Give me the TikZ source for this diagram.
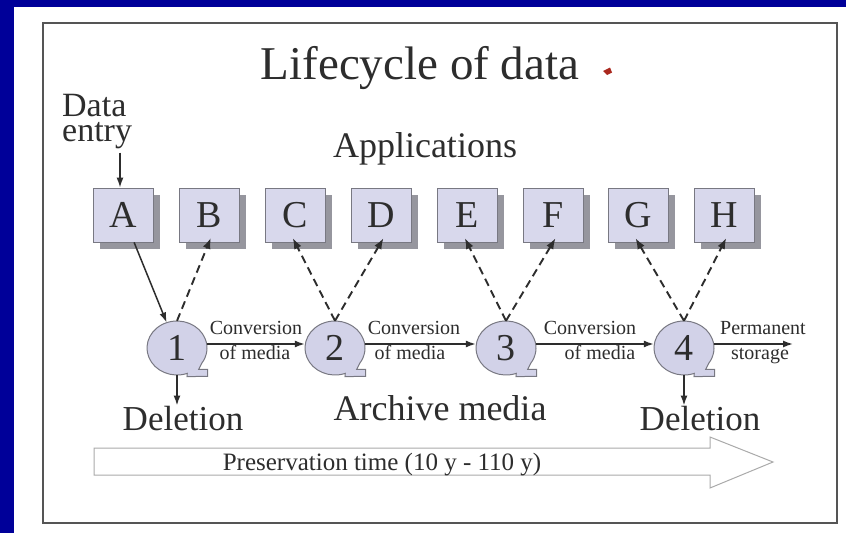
\documentclass[tikz,border=0pt]{standalone}
\usepackage{fontspec}
\setmainfont{Liberation Serif}
\usetikzlibrary{arrows.meta,shapes.geometric,shadows}
\definecolor{slideblue}{RGB}{0,0,153}
\definecolor{ink}{RGB}{45,45,45}
\definecolor{boxfill}{RGB}{216,216,236}
\definecolor{bubfill}{RGB}{210,210,232}
\definecolor{edge}{RGB}{120,120,130}
\definecolor{shade}{RGB}{150,150,158}
\definecolor{framegray}{RGB}{85,85,85}
\definecolor{arrowgray}{RGB}{170,170,170}
\definecolor{tickred}{RGB}{170,40,30}
\newcommand\drawbubble[2]{%
  \path[bubble] (#1,#2) ++(70:30 and 27)
    arc[start angle=70,end angle=395,x radius=30,y radius=27]
    -- ++(-3,6) -- ++(9,0) -- ++(0,7) -- ({#1+10},{#2+28.5}) -- cycle;}
\begin{document}
\begin{tikzpicture}[x=1pt,y=-1pt,
  appbox/.style={draw=edge, line width=0.8pt, fill=boxfill, minimum width=60pt,
    minimum height=54pt, inner sep=0pt, text=ink, font=\fontsize{38}{40}\selectfont,
    general shadow={fill=shade, shadow xshift=7pt, shadow yshift=-7pt}},
  bubble/.style={fill=bubfill, draw=edge, line width=1pt},
  bubnode/.style={ellipse, minimum width=60pt, minimum height=54pt, inner sep=0pt,
    text=ink, font=\fontsize{38}{40}\selectfont},
  big/.style={text=ink, inner sep=0pt, font=\fontsize{36}{38}\selectfont},
  small/.style={text=ink, inner sep=0pt, font=\fontsize{20}{22}\selectfont},
  arr/.style={draw=ink, line width=1.5pt, -{Latex[length=10pt,width=7pt]}},
  dasharr/.style={draw=ink, line width=1.9pt, dash pattern=on 8pt off 5pt,
    -{Latex[length=11pt,width=8pt]}, shorten >=-5pt},
]
\useasboundingbox (0,0) rectangle (846,533);
\fill[slideblue] (0,0) rectangle (846,533);
\fill[white] (14,7) rectangle (846,533);
\draw[framegray, line width=2pt] (43,23) rectangle (837,523);

% title
\node[text=ink, inner sep=0pt, anchor=base, font=\fontsize{47}{50}\selectfont] (title) at (420,79) {Lifecycle of data};
\fill[tickred] (603,71) -- (610,67.5) -- (612,72.5) -- (607,75) -- cycle;

% texts
\node[big, anchor=base west, align=left, font=\fontsize{34}{25}\selectfont] (dataentry) at (62,141) {Data\\entry};
\node[big, anchor=base] (apps) at (425,157) {Applications};

% boxes
\node[appbox] (A) at (123,215) {A};
\node[appbox] (B) at (209,215) {B};
\node[appbox] (C) at (295,215) {C};
\node[appbox] (D) at (381,215) {D};
\node[appbox] (E) at (467,215) {E};
\node[appbox] (F) at (553,215) {F};
\node[appbox] (G) at (638,215) {G};
\node[appbox] (H) at (724,215) {H};

% bubbles
\drawbubble{177}{348}
\drawbubble{335}{348}
\drawbubble{506}{348}
\drawbubble{684}{348}
\node[bubnode] (c1) at (177,348) {1};
\node[bubnode] (c2) at (335,348) {2};
\node[bubnode] (c3) at (506,348) {3};
\node[bubnode] (c4) at (684,348) {4};
\coordinate (perm) at (793,344);

% labels
\node[small, anchor=base] (conv1) at (256,334) {Conversion};
\node[small, anchor=base] (med1) at (255,359) {of media};
\node[small, anchor=base] (conv2) at (414,334) {Conversion};
\node[small, anchor=base] (med2) at (410,359) {of media};
\node[small, anchor=base] (conv3) at (590,334) {Conversion};
\node[small, anchor=base] (med3) at (600,359) {of media};
\node[small, anchor=base] (perm1) at (763,334) {Permanent};
\node[small, anchor=base] (perm2) at (760,359) {storage};

\node[big, anchor=base, font=\fontsize{35}{37}\selectfont] (del1) at (183,430) {Deletion};
\node[big, anchor=base, font=\fontsize{35}{37}\selectfont] (del4) at (700,430) {Deletion};
\node[big, anchor=base] (archive) at (440,420) {Archive media};

% connectors
\draw[arr] ([xshift=-3pt,yshift=-4pt]A.north |- dataentry.south) -- ([xshift=-3pt]A.north);
\draw[arr] (A) -- (c1);
\draw[dasharr] (c1.north) -- (B.south);
\draw[dasharr] (c2.north) -- (C.south);
\draw[dasharr] (c2.north) -- (D.south);
\draw[dasharr] (c3.north) -- (E.south);
\draw[dasharr] (c3.north) -- (F.south);
\draw[dasharr] (c4.north) -- (G.south);
\draw[dasharr] (c4.north) -- (H.south);
\draw[arr] ([yshift=4pt]c1.east) -- ([yshift=4pt]c2.west);
\draw[arr] ([yshift=4pt]c2.east) -- ([yshift=4pt]c3.west);
\draw[arr] ([yshift=4pt]c3.east) -- ([yshift=4pt]c4.west);
\draw[arr] ([yshift=4pt]c4.east) -- (perm);
\draw[arr] (c1.south) -- (c1.south |- del1.north);
\draw[arr] (c4.south) -- (c4.south |- del4.north);

% preservation arrow
\draw[arrowgray, line width=1pt, fill=white] (94,448) -- (710,448) -- (710,437) -- (773,462)
  -- (710,488) -- (710,475) -- (94,475) -- cycle;
\node[text=ink, inner sep=0pt, anchor=base, font=\fontsize{25}{27}\selectfont] (pres) at (382,470) {Preservation time (10 y - 110 y)};
\end{tikzpicture}
\end{document}
